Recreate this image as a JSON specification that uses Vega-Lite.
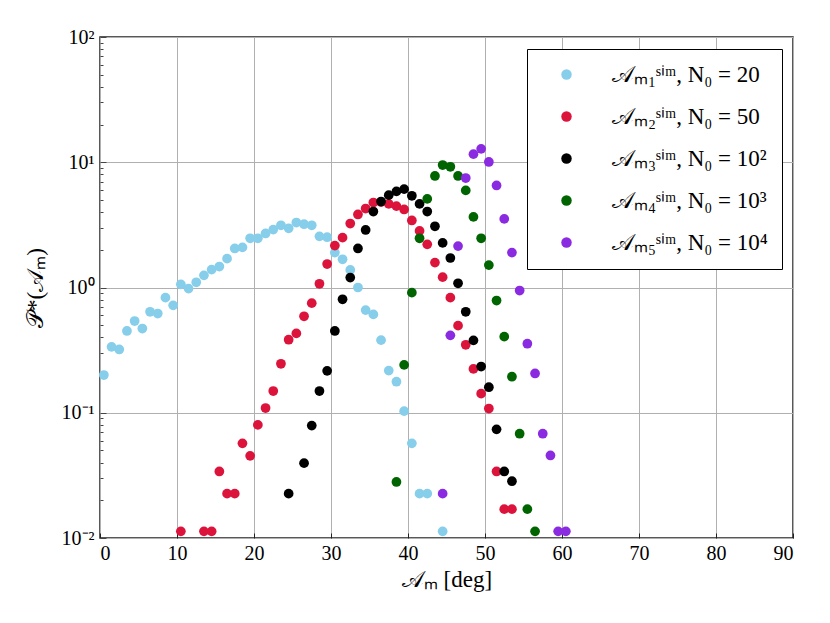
{
  "$schema": "https://vega.github.io/schema/vega-lite/v6.json",
  "width": 693,
  "height": 501,
  "autosize": "none",
  "padding": {"left": 100, "top": 37, "right": 37, "bottom": 85},
  "background": "white",
  "config": {
    "font": "Liberation Serif",
    "view": {"stroke": "#222222", "strokeWidth": 1.5}
  },
  "data": {
    "values": [
      {"series": "M1", "angle": 0.5, "prob": 0.20},
      {"series": "M1", "angle": 1.5, "prob": 0.336},
      {"series": "M1", "angle": 2.5, "prob": 0.32},
      {"series": "M1", "angle": 3.5, "prob": 0.45},
      {"series": "M1", "angle": 4.5, "prob": 0.54},
      {"series": "M1", "angle": 5.5, "prob": 0.47},
      {"series": "M1", "angle": 6.5, "prob": 0.64},
      {"series": "M1", "angle": 7.5, "prob": 0.62},
      {"series": "M1", "angle": 8.5, "prob": 0.83},
      {"series": "M1", "angle": 9.5, "prob": 0.72},
      {"series": "M1", "angle": 10.5, "prob": 1.06},
      {"series": "M1", "angle": 11.5, "prob": 0.98},
      {"series": "M1", "angle": 12.5, "prob": 1.1},
      {"series": "M1", "angle": 13.5, "prob": 1.25},
      {"series": "M1", "angle": 14.5, "prob": 1.39},
      {"series": "M1", "angle": 15.5, "prob": 1.47},
      {"series": "M1", "angle": 16.5, "prob": 1.7},
      {"series": "M1", "angle": 17.5, "prob": 2.05},
      {"series": "M1", "angle": 18.5, "prob": 2.09},
      {"series": "M1", "angle": 19.5, "prob": 2.47},
      {"series": "M1", "angle": 20.5, "prob": 2.47},
      {"series": "M1", "angle": 21.5, "prob": 2.7},
      {"series": "M1", "angle": 22.5, "prob": 2.9},
      {"series": "M1", "angle": 23.5, "prob": 3.14},
      {"series": "M1", "angle": 24.5, "prob": 2.97},
      {"series": "M1", "angle": 25.5, "prob": 3.3},
      {"series": "M1", "angle": 26.5, "prob": 3.2},
      {"series": "M1", "angle": 27.5, "prob": 3.14},
      {"series": "M1", "angle": 28.5, "prob": 2.56},
      {"series": "M1", "angle": 29.5, "prob": 2.52},
      {"series": "M1", "angle": 30.5, "prob": 1.9},
      {"series": "M1", "angle": 31.5, "prob": 1.68},
      {"series": "M1", "angle": 32.5, "prob": 1.38},
      {"series": "M1", "angle": 33.5, "prob": 1.0},
      {"series": "M1", "angle": 34.5, "prob": 0.66},
      {"series": "M1", "angle": 35.5, "prob": 0.61},
      {"series": "M1", "angle": 36.5, "prob": 0.38},
      {"series": "M1", "angle": 37.5, "prob": 0.217},
      {"series": "M1", "angle": 38.5, "prob": 0.177},
      {"series": "M1", "angle": 39.5, "prob": 0.103},
      {"series": "M1", "angle": 40.5, "prob": 0.057},
      {"series": "M1", "angle": 41.5, "prob": 0.0226},
      {"series": "M1", "angle": 42.5, "prob": 0.0226},
      {"series": "M1", "angle": 44.5, "prob": 0.0113},
      {"series": "M2", "angle": 10.5, "prob": 0.0113},
      {"series": "M2", "angle": 13.5, "prob": 0.0113},
      {"series": "M2", "angle": 14.5, "prob": 0.0113},
      {"series": "M2", "angle": 15.5, "prob": 0.034},
      {"series": "M2", "angle": 16.5, "prob": 0.0226},
      {"series": "M2", "angle": 17.5, "prob": 0.0226},
      {"series": "M2", "angle": 18.5, "prob": 0.057},
      {"series": "M2", "angle": 19.5, "prob": 0.0453},
      {"series": "M2", "angle": 20.5, "prob": 0.08},
      {"series": "M2", "angle": 21.5, "prob": 0.109},
      {"series": "M2", "angle": 22.5, "prob": 0.149},
      {"series": "M2", "angle": 23.5, "prob": 0.246},
      {"series": "M2", "angle": 24.5, "prob": 0.383},
      {"series": "M2", "angle": 25.5, "prob": 0.43},
      {"series": "M2", "angle": 26.5, "prob": 0.589},
      {"series": "M2", "angle": 27.5, "prob": 0.75},
      {"series": "M2", "angle": 28.5, "prob": 1.07},
      {"series": "M2", "angle": 29.5, "prob": 1.54},
      {"series": "M2", "angle": 30.5, "prob": 2.16},
      {"series": "M2", "angle": 31.5, "prob": 2.5},
      {"series": "M2", "angle": 32.5, "prob": 3.24},
      {"series": "M2", "angle": 33.5, "prob": 3.83},
      {"series": "M2", "angle": 34.5, "prob": 4.27},
      {"series": "M2", "angle": 35.5, "prob": 4.77},
      {"series": "M2", "angle": 36.5, "prob": 4.8},
      {"series": "M2", "angle": 37.5, "prob": 4.65},
      {"series": "M2", "angle": 38.5, "prob": 4.46},
      {"series": "M2", "angle": 39.5, "prob": 4.2},
      {"series": "M2", "angle": 40.5, "prob": 3.43},
      {"series": "M2", "angle": 41.5, "prob": 2.83},
      {"series": "M2", "angle": 42.5, "prob": 2.21},
      {"series": "M2", "angle": 43.5, "prob": 1.58},
      {"series": "M2", "angle": 44.5, "prob": 1.21},
      {"series": "M2", "angle": 45.5, "prob": 0.83},
      {"series": "M2", "angle": 46.5, "prob": 0.496},
      {"series": "M2", "angle": 47.5, "prob": 0.349},
      {"series": "M2", "angle": 48.5, "prob": 0.224},
      {"series": "M2", "angle": 49.5, "prob": 0.142},
      {"series": "M2", "angle": 50.5, "prob": 0.108},
      {"series": "M2", "angle": 51.5, "prob": 0.034},
      {"series": "M2", "angle": 52.5, "prob": 0.017},
      {"series": "M2", "angle": 53.5, "prob": 0.017},
      {"series": "M3", "angle": 24.5, "prob": 0.0226},
      {"series": "M3", "angle": 26.5, "prob": 0.0396},
      {"series": "M3", "angle": 27.5, "prob": 0.079},
      {"series": "M3", "angle": 28.5, "prob": 0.149},
      {"series": "M3", "angle": 29.5, "prob": 0.216},
      {"series": "M3", "angle": 30.5, "prob": 0.45},
      {"series": "M3", "angle": 31.5, "prob": 0.805},
      {"series": "M3", "angle": 32.5, "prob": 1.2},
      {"series": "M3", "angle": 33.5, "prob": 2.05},
      {"series": "M3", "angle": 34.5, "prob": 2.88},
      {"series": "M3", "angle": 35.5, "prob": 4.04},
      {"series": "M3", "angle": 36.5, "prob": 4.86},
      {"series": "M3", "angle": 37.5, "prob": 5.46},
      {"series": "M3", "angle": 38.5, "prob": 5.85},
      {"series": "M3", "angle": 39.5, "prob": 6.1},
      {"series": "M3", "angle": 40.5, "prob": 5.4},
      {"series": "M3", "angle": 41.5, "prob": 4.65},
      {"series": "M3", "angle": 42.5, "prob": 4.04},
      {"series": "M3", "angle": 43.5, "prob": 3.08},
      {"series": "M3", "angle": 44.5, "prob": 2.27},
      {"series": "M3", "angle": 45.5, "prob": 1.72},
      {"series": "M3", "angle": 46.5, "prob": 1.08},
      {"series": "M3", "angle": 47.5, "prob": 0.64},
      {"series": "M3", "angle": 48.5, "prob": 0.378},
      {"series": "M3", "angle": 49.5, "prob": 0.234},
      {"series": "M3", "angle": 50.5, "prob": 0.16},
      {"series": "M3", "angle": 51.5, "prob": 0.0737},
      {"series": "M3", "angle": 52.5, "prob": 0.034},
      {"series": "M3", "angle": 53.5, "prob": 0.0284},
      {"series": "M4", "angle": 38.5, "prob": 0.028},
      {"series": "M4", "angle": 39.5, "prob": 0.241},
      {"series": "M4", "angle": 40.5, "prob": 0.91},
      {"series": "M4", "angle": 41.5, "prob": 2.47},
      {"series": "M4", "angle": 42.5, "prob": 5.1},
      {"series": "M4", "angle": 43.5, "prob": 7.77},
      {"series": "M4", "angle": 44.5, "prob": 9.5},
      {"series": "M4", "angle": 45.5, "prob": 9.2},
      {"series": "M4", "angle": 46.5, "prob": 7.77},
      {"series": "M4", "angle": 47.5, "prob": 5.96},
      {"series": "M4", "angle": 48.5, "prob": 3.66},
      {"series": "M4", "angle": 49.5, "prob": 2.47},
      {"series": "M4", "angle": 50.5, "prob": 1.51},
      {"series": "M4", "angle": 51.5, "prob": 0.787},
      {"series": "M4", "angle": 52.5, "prob": 0.405},
      {"series": "M4", "angle": 53.5, "prob": 0.194},
      {"series": "M4", "angle": 54.5, "prob": 0.068},
      {"series": "M4", "angle": 55.5, "prob": 0.017},
      {"series": "M4", "angle": 56.5, "prob": 0.0113},
      {"series": "M5", "angle": 44.5, "prob": 0.0226},
      {"series": "M5", "angle": 45.5, "prob": 0.415},
      {"series": "M5", "angle": 46.5, "prob": 2.14},
      {"series": "M5", "angle": 47.5, "prob": 7.48},
      {"series": "M5", "angle": 48.5, "prob": 11.6},
      {"series": "M5", "angle": 49.5, "prob": 12.8},
      {"series": "M5", "angle": 50.5, "prob": 10.05},
      {"series": "M5", "angle": 51.5, "prob": 6.53},
      {"series": "M5", "angle": 52.5, "prob": 3.53},
      {"series": "M5", "angle": 53.5, "prob": 1.9},
      {"series": "M5", "angle": 54.5, "prob": 0.946},
      {"series": "M5", "angle": 55.5, "prob": 0.356},
      {"series": "M5", "angle": 56.5, "prob": 0.206},
      {"series": "M5", "angle": 57.5, "prob": 0.068},
      {"series": "M5", "angle": 58.5, "prob": 0.0456},
      {"series": "M5", "angle": 59.5, "prob": 0.0113},
      {"series": "M5", "angle": 60.5, "prob": 0.0113}
    ]
  },
  "layer": [
    {
      "mark": {"type": "point", "filled": true, "opacity": 1, "size": 95, "shape": "circle"},
      "encoding": {
        "x": {
          "field": "angle",
          "type": "quantitative",
          "scale": {"domain": [0, 90], "nice": false, "zero": false},
          "axis": {
            "title": "𝒜ₘ [deg]",
            "titleFont": "Liberation Serif",
            "titleFontSize": 23,
            "titleFontWeight": "normal",
            "titleColor": "black",
            "titlePadding": 5,
            "values": [0, 10, 20, 30, 40, 50, 60, 70, 80, 90],
            "labelFont": "Liberation Serif",
            "labelFontSize": 20,
            "labelColor": "black",
            "labelPadding": 10,
            "tickSize": -5,
            "tickColor": "#222222",
            "domain": false,
            "grid": true,
            "gridColor": "#b0b0b0",
            "gridWidth": 1
          }
        },
        "y": {
          "field": "prob",
          "type": "quantitative",
          "scale": {"type": "log", "domain": [0.01, 100], "nice": false},
          "axis": {
            "orient": "left",
            "title": "𝒫*(𝒜ₘ)",
            "titleFont": "Liberation Serif",
            "titleFontSize": 23,
            "titleFontWeight": "normal",
            "titleColor": "black",
            "titlePadding": 14,
            "values": [0.01, 0.1, 1, 10, 100],
            "labelExpr": "datum.value==0.01?'10⁻²':datum.value==0.1?'10⁻¹':datum.value==1?'10⁰':datum.value==10?'10¹':'10²'",
            "labelFont": "Liberation Serif",
            "labelFontSize": 20,
            "labelColor": "black",
            "labelPadding": 12,
            "tickColor": "#444444",
            "tickSize": -6,
            "domain": false,
            "grid": true,
            "gridColor": "#b0b0b0",
            "gridWidth": 1
          }
        },
        "color": {
          "field": "series",
          "type": "nominal",
          "scale": {
            "domain": ["M1", "M2", "M3", "M4", "M5"],
            "range": ["#87ceeb", "#dc143c", "#000000", "#006400", "#8a2be2"]
          },
          "legend": {
            "orient": "none",
            "legendX": 427,
            "legendY": 12,
            "title": null,
            "fillColor": "white",
            "strokeColor": "black",
            "padding": 14,
            "symbolType": "circle",
            "symbolSize": 110,
            "symbolOffset": 14,
            "labelOffset": 34,
            "labelFont": "Liberation Serif",
            "labelFontSize": 23,
            "labelColor": "black",
            "labelLimit": 0,
            "rowPadding": 18,
            "encode": {"legend": {"update": {"strokeWidth": {"value": 2}}}},
            "labelExpr": "datum.value=='M1'?'𝒜ₘ₁ˢⁱᵐ, N₀ = 20':datum.value=='M2'?'𝒜ₘ₂ˢⁱᵐ, N₀ = 50':datum.value=='M3'?'𝒜ₘ₃ˢⁱᵐ, N₀ = 10²':datum.value=='M4'?'𝒜ₘ₄ˢⁱᵐ, N₀ = 10³':'𝒜ₘ₅ˢⁱᵐ, N₀ = 10⁴'"
          }
        }
      }
    },
    {
      "mark": {"type": "point", "filled": true, "opacity": 0},
      "encoding": {
        "x": {
          "field": "angle",
          "type": "quantitative",
          "scale": {"domain": [0, 90], "nice": false, "zero": false}
        },
        "y": {
          "field": "prob",
          "type": "quantitative",
          "scale": {"type": "log", "domain": [0.01, 100], "nice": false},
          "axis": {
            "orient": "left",
            "title": null,
            "values": [0.02, 0.03, 0.04, 0.05, 0.06, 0.07, 0.08, 0.09, 0.2, 0.3, 0.4, 0.5, 0.6, 0.7, 0.8, 0.9, 2, 3, 4, 5, 6, 7, 8, 9, 20, 30, 40, 50, 60, 70, 80, 90],
            "labels": false,
            "grid": false,
            "domain": false,
            "tickSize": -3,
            "tickColor": "#444444"
          }
        }
      }
    }
  ],
  "resolve": {"axis": {"y": "independent"}}
}
